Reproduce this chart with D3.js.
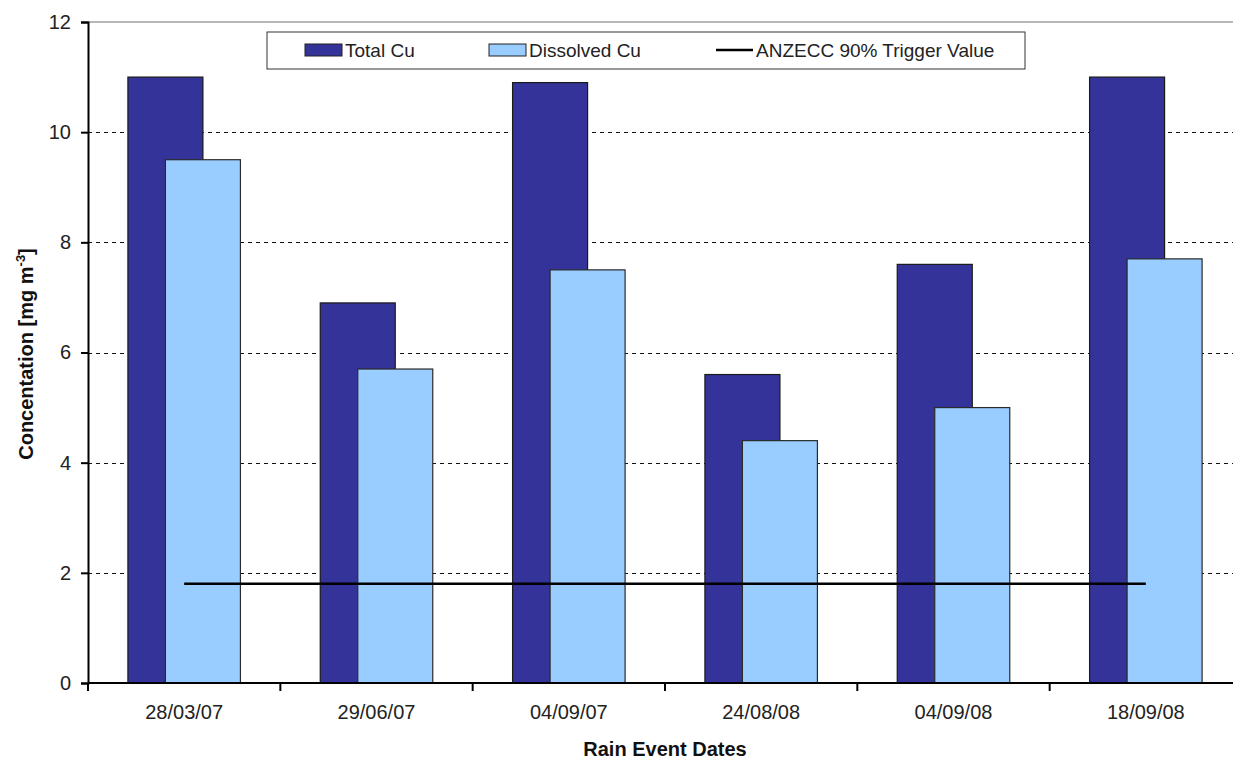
<!DOCTYPE html>
<html>
<head>
<meta charset="utf-8">
<script src="https://cdn.jsdelivr.net/npm/d3@7/dist/d3.min.js"></script>
<style>
  html, body { margin: 0; padding: 0; background: #fff; }
  svg { display: block; font-family: "Liberation Sans", Arial, sans-serif; }
</style>
</head>
<body>
<svg id="chart" width="1233" height="760"></svg>
<script>
// Rain event dates and copper concentrations (mg m^-3)
const dates = ["28/03/07", "29/06/07", "04/09/07", "24/08/08", "04/09/08", "18/09/08"];
const totalCu = [11.0, 6.9, 10.9, 5.6, 7.6, 11.0];
const dissolvedCu = [9.5, 5.7, 7.5, 4.4, 5.0, 7.7];
const triggerValue = [1.8, 1.8, 1.8, 1.8, 1.8, 1.8];
const yTicks = [0, 2, 4, 6, 8, 10, 12];
const seriesNames = ["Total Cu", "Dissolved Cu", "ANZECC 90% Trigger Value"];

const colTotal = "#333399";
const colDissolved = "#99CCFF";

const svg = d3.select("#chart");
const plot = { left: 88, right: 1242, top: 22, bottom: 683 };

const x = d3.scaleBand().domain(dates).range([plot.left, plot.right]).padding(0);
const y = d3.scaleLinear().domain([0, 12]).range([plot.bottom, plot.top]);
const bw = x.bandwidth() * 0.39;
const cx = d => x(d) + x.bandwidth() / 2;
const snap = v => Math.round(v) + 0.5;

// Gridlines
svg.append("g").selectAll("line")
  .data(yTicks.filter(t => t > 0 && t < 12))
  .join("line")
  .attr("x1", plot.left).attr("x2", plot.right)
  .attr("y1", d => snap(y(d))).attr("y2", d => snap(y(d)))
  .attr("stroke", "#111").attr("stroke-width", 1)
  .attr("stroke-dasharray", "4,4")
  .attr("shape-rendering", "crispEdges");

// Top border of the plot area
svg.append("line")
  .attr("x1", plot.left).attr("x2", plot.right)
  .attr("y1", y(12)).attr("y2", y(12))
  .attr("stroke", "#a0a0a0").attr("stroke-width", 1.5);

// Bars: total behind, dissolved overlapping to the right
svg.append("g").selectAll("rect")
  .data(dates.map((d, i) => ({ d, v: totalCu[i] })))
  .join("rect")
  .attr("x", p => cx(p.d) - 0.75 * bw)
  .attr("y", p => y(p.v))
  .attr("width", bw)
  .attr("height", p => y(0) - y(p.v))
  .attr("fill", colTotal)
  .attr("stroke", "#1a1a1a").attr("stroke-width", 1.2);

svg.append("g").selectAll("rect")
  .data(dates.map((d, i) => ({ d, v: dissolvedCu[i] })))
  .join("rect")
  .attr("x", p => cx(p.d) - 0.25 * bw)
  .attr("y", p => y(p.v))
  .attr("width", bw)
  .attr("height", p => y(0) - y(p.v))
  .attr("fill", colDissolved)
  .attr("stroke", "#2a2a2a").attr("stroke-width", 1.2);

// Trigger value line
const line = d3.line().x(p => cx(p.d)).y(p => y(p.v));
svg.append("path")
  .datum(dates.map((d, i) => ({ d, v: triggerValue[i] })))
  .attr("d", line)
  .attr("fill", "none")
  .attr("stroke", "#000").attr("stroke-width", 2.5);

// Y axis
const yAxis = d3.axisLeft(y).tickValues(yTicks).tickSize(7).tickPadding(10).tickFormat(d3.format("d"));
const gy = svg.append("g").attr("transform", `translate(${plot.left},0)`).call(yAxis);
gy.select(".domain").attr("stroke", "#000").attr("stroke-width", 2);
gy.selectAll(".tick line").attr("stroke", "#000").attr("stroke-width", 2);
gy.selectAll(".tick text")
  .attr("font-family", "Liberation Sans, Arial, sans-serif")
  .attr("font-size", 20).attr("fill", "#222");

// X axis with ticks on category boundaries
const gx = svg.append("g").attr("transform", `translate(0,${plot.bottom})`);
gx.append("line")
  .attr("x1", plot.left).attr("x2", plot.right)
  .attr("stroke", "#000").attr("stroke-width", 2);
const bounds = dates.map(d => x(d)).concat([plot.right]);
gx.selectAll("line.tk").data(bounds).join("line").attr("class", "tk")
  .attr("x1", d => d).attr("x2", d => d)
  .attr("y1", 0).attr("y2", 8)
  .attr("stroke", "#000").attr("stroke-width", 2);
gx.selectAll("text").data(dates).join("text")
  .attr("x", d => cx(d)).attr("y", 36)
  .attr("text-anchor", "middle")
  .attr("font-size", 20).attr("fill", "#222")
  .text(d => d);

// Axis titles
svg.append("text")
  .attr("x", 665).attr("y", 756)
  .attr("text-anchor", "middle")
  .attr("font-size", 20).attr("font-weight", "bold").attr("fill", "#111")
  .text("Rain Event Dates");

const yl = svg.append("text")
  .attr("transform", "translate(33,354) rotate(-90)")
  .attr("text-anchor", "middle")
  .attr("font-size", 20).attr("font-weight", "bold").attr("fill", "#111");
yl.append("tspan").text("Concentation [mg m");
yl.append("tspan").attr("dy", -8).attr("font-size", 13).text("-3");
yl.append("tspan").attr("dy", 8).text("]");

// Legend
const lg = svg.append("g");
lg.append("rect")
  .attr("x", 267).attr("y", 32).attr("width", 758).attr("height", 37)
  .attr("fill", "#fff").attr("stroke", "#333").attr("stroke-width", 1);
const legendItems = [
  { name: seriesNames[0], type: "bar", color: colTotal, x: 305 },
  { name: seriesNames[1], type: "bar", color: colDissolved, x: 489 },
  { name: seriesNames[2], type: "line", color: "#000", x: 716 }
];
legendItems.forEach(it => {
  if (it.type === "bar") {
    lg.append("rect")
      .attr("x", it.x).attr("y", 44).attr("width", 37).attr("height", 12)
      .attr("fill", it.color).attr("stroke", "#222").attr("stroke-width", 1);
  } else {
    lg.append("line")
      .attr("x1", it.x).attr("x2", it.x + 37)
      .attr("y1", 50).attr("y2", 50)
      .attr("stroke", it.color).attr("stroke-width", 2.5);
  }
  lg.append("text")
    .attr("x", it.x + 40).attr("y", 57)
    .attr("font-size", 19).attr("fill", "#222")
    .text(it.name);
});
</script>
</body>
</html>
